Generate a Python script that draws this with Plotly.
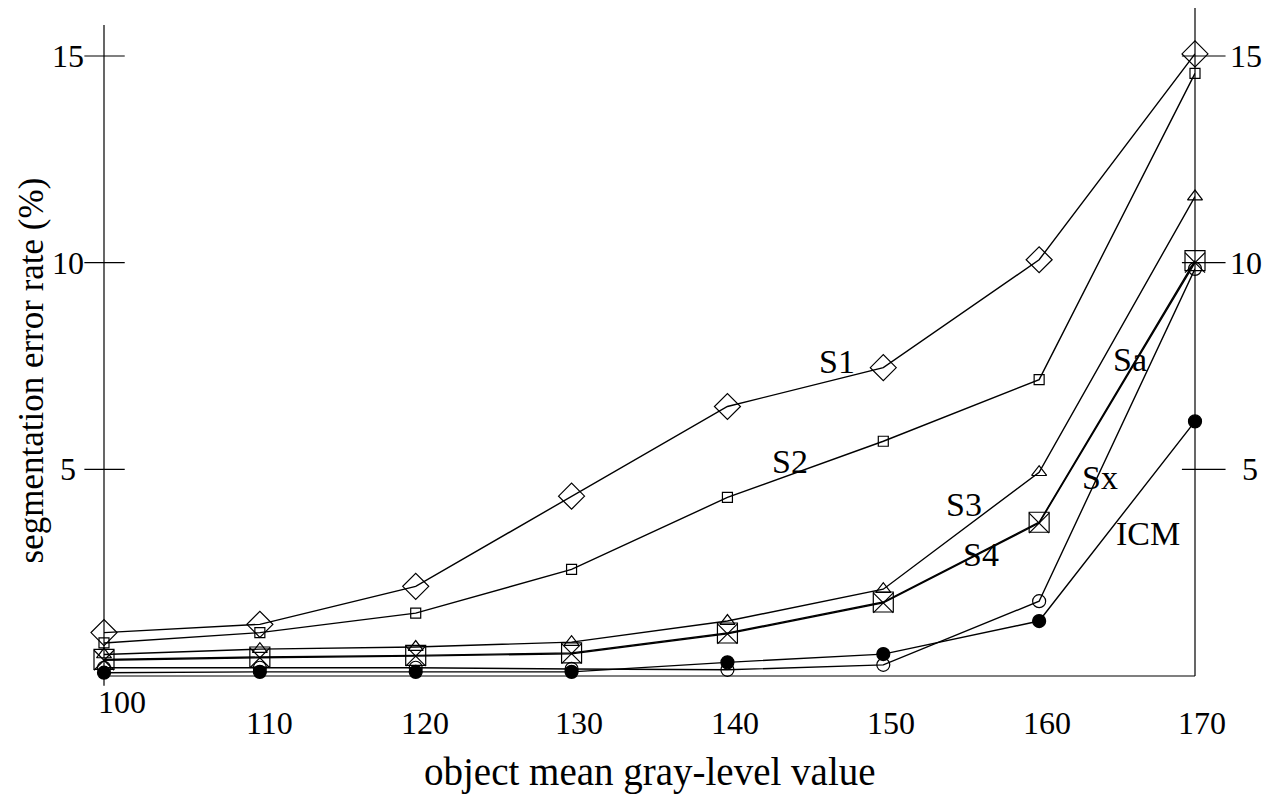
import plotly.graph_objects as go

# ---- data ----
gray_level = [100, 110, 120, 130, 140, 150, 160, 170]
s1 = [1.05, 1.25, 2.17, 4.35, 6.52, 7.46, 10.07, 15.05]
s2 = [0.80, 1.05, 1.52, 2.58, 4.32, 5.68, 7.17, 14.58]
s3 = [0.52, 0.65, 0.70, 0.82, 1.33, 2.10, 4.93, 11.60]
s4 = [0.40, 0.46, 0.50, 0.56, 1.04, 1.79, 3.72, 10.05]
sa = [0.38, 0.44, 0.48, 0.54, 1.02, 1.77, 3.70, 10.00]
sx = [0.20, 0.20, 0.20, 0.17, 0.15, 0.27, 1.81, 9.85]
icm = [0.08, 0.10, 0.10, 0.10, 0.33, 0.53, 1.33, 6.16]

series_names = ["S1", "S2", "S3", "S4", "Sa", "Sx", "ICM"]
series_vals = [s1, s2, s3, s4, sa, sx, icm]
series_symbols = ["diamond-open", "square-open", "triangle-up-open", "square-open",
                  "x-thin-open", "circle-open", "circle"]
series_sizes = [20, 10, 13, 20, 20, 13, 13]

# label positions (x in gray level, y in %)
label_x = [147.0, 144.0, 155.2, 156.3, 165.8, 163.9, 167.0]
label_y = [7.6, 5.2, 4.15, 2.93, 7.65, 4.8, 3.45]

x_ticks = [100, 110, 120, 130, 140, 150, 160, 170]
x_tick_shift = [1.15, 0.64, 0.6, 0.5, 0.5, 0.5, 0.5, 0.45]
y_ticks = [5, 10, 15]

XMIN, XMAX = 100, 170
YMAX = 15.75
FONT = "Liberation Serif, Times New Roman, serif"
TICK_SIZE = 32
TITLE_SIZE = 39
YTITLE_SIZE = 35
LABEL_SIZE = 34

fig = go.Figure()
for name, vals, sym, sz in zip(series_names, series_vals, series_symbols, series_sizes):
    fig.add_trace(go.Scatter(
        x=gray_level, y=vals, name=name, mode="lines+markers",
        line=dict(color="black", width=1.4),
        marker=dict(symbol=sym, size=sz, color="black",
                    line=dict(color="black", width=1.2)),
        cliponaxis=False, showlegend=False,
    ))

# axis / tick lines (paper coordinates derived from the axis ranges)
shapes = []
shapes.append(dict(type="line", xref="paper", yref="paper", x0=0, x1=0,
                   y0=-0.015, y1=1.0, line=dict(color="black", width=1.2)))
shapes.append(dict(type="line", xref="paper", yref="paper", x0=1, x1=1,
                   y0=0, y1=1.04, line=dict(color="black", width=1.2)))
shapes.append(dict(type="line", xref="paper", yref="paper", x0=0, x1=1,
                   y0=0, y1=0, line=dict(color="black", width=1.2)))
for t in y_ticks:
    yp = t / YMAX
    shapes.append(dict(type="line", xref="paper", yref="paper", x0=-0.018, x1=0.019,
                       y0=yp, y1=yp, line=dict(color="black", width=1.2)))
    shapes.append(dict(type="line", xref="paper", yref="paper", x0=0.988, x1=1.028,
                       y0=yp, y1=yp, line=dict(color="black", width=1.2)))

annotations = []
for t in y_ticks:
    annotations.append(dict(xref="paper", yref="y", x=-0.033, y=t, text=str(t),
                            showarrow=False, xanchor="center", yanchor="middle",
                            font=dict(family=FONT, size=TICK_SIZE, color="black")))
    annotations.append(dict(xref="paper", yref="y", x=1.047 if t != 5 else 1.05, y=t,
                            text=str(t), showarrow=False, xanchor="center",
                            yanchor="middle",
                            font=dict(family=FONT, size=TICK_SIZE, color="black")))
for i, t in enumerate(x_ticks):
    xp = (t + x_tick_shift[i] - XMIN) / (XMAX - XMIN)
    annotations.append(dict(xref="paper", yref="paper", x=xp,
                            y=-0.040 if i == 0 else -0.072, text=str(t),
                            showarrow=False, xanchor="center", yanchor="middle",
                            font=dict(family=FONT, size=TICK_SIZE, color="black")))
for name, lx, ly in zip(series_names, label_x, label_y):
    annotations.append(dict(xref="x", yref="y", x=lx, y=ly, text=name,
                            showarrow=False, xanchor="center", yanchor="middle",
                            font=dict(family=FONT, size=LABEL_SIZE, color="black")))
annotations.append(dict(xref="paper", yref="paper", x=0.5, y=-0.147,
                        text="object mean gray-level value", showarrow=False,
                        xanchor="center", yanchor="middle",
                        font=dict(family=FONT, size=TITLE_SIZE, color="black")))
annotations.append(dict(xref="paper", yref="paper", x=-0.0665, y=0.47,
                        text="segmentation error rate (%)", showarrow=False,
                        textangle=-90, xanchor="center", yanchor="middle",
                        borderpad=0,
                        font=dict(family=FONT, size=YTITLE_SIZE, color="black")))

# the page body adds an 8px offset, so the figure is 8px smaller on each side
fig.update_layout(
    width=1264, height=797,
    margin=dict(l=96, r=77, t=17, b=129),
    paper_bgcolor="white", plot_bgcolor="white",
    xaxis=dict(range=[XMIN, XMAX], showgrid=False, zeroline=False, showline=False,
               showticklabels=False, ticks=""),
    yaxis=dict(range=[0, YMAX], showgrid=False, zeroline=False, showline=False,
               showticklabels=False, ticks=""),
    shapes=shapes, annotations=annotations,
)

fig.write_html("out.html")
